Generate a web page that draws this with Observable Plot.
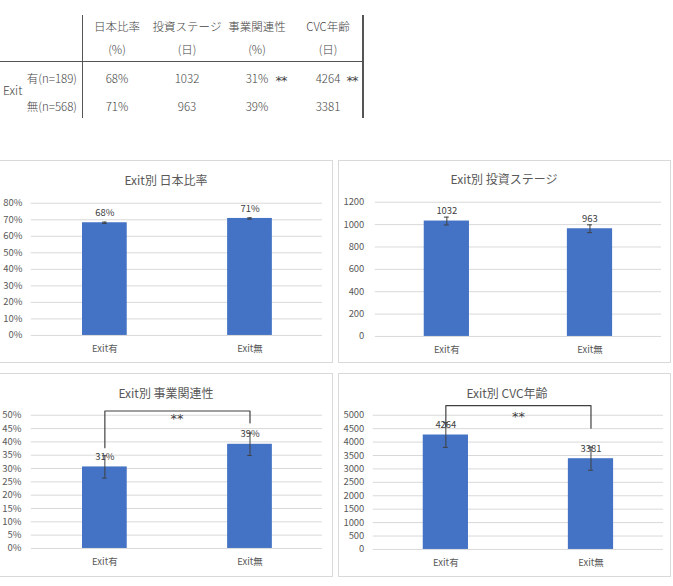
<!DOCTYPE html>
<html><head><meta charset="utf-8">
<script src="https://cdn.jsdelivr.net/npm/d3@7"></script>
<script src="https://cdn.jsdelivr.net/npm/@observablehq/plot@0.6"></script>
<style>
body{margin:0;background:#fff;width:673px;height:586px;position:relative;overflow:hidden;font-family:"Noto Sans CJK JP",sans-serif;}
.t,.tr,.tl{position:absolute;font-size:11.5px;color:#444;white-space:nowrap;line-height:1;font-weight:300;}
.t{transform:translate(-50%,-50%);}
.tr{transform:translate(-100%,-50%);}
.tl{transform:translate(0,-50%);}
.line{position:absolute;background:#555;}
.panel{position:absolute;border:1px solid #d9d9d9;box-sizing:border-box;background:#fff;overflow:visible;}
.panel svg{position:absolute;left:0;top:0;overflow:visible;}
.title{position:absolute;font-size:12px;color:#595959;transform:translate(-50%,-50%);white-space:nowrap;line-height:1;}
</style></head><body>
<script>
// ---------- data ----------
const groups = ["Exit有", "Exit無"];
const rowLabels = ["有(n=189)", "無(n=568)"];
const colHeads = ["日本比率", "投資ステージ", "事業関連性", "CVC年齢"];
const colUnits = ["(%)", "(日)", "(%)", "(日)"];
const tableRow1 = ["68%", "1032", "31%", "4264"];
const tableRow2 = ["71%", "963", "39%", "3381"];
const signif = ["", "", "**", "**"];

const japanRatio = [0.682, 0.708];
const japanErr = [0.004, 0.004];
const stageDays = [1032, 963];
const stageErr = [35, 35];
const relevance = [0.306, 0.391];
const relevanceErr = [0.042, 0.042];
const cvcAge = [4264, 3381];
const cvcErr = [460, 430];

const pctTicks80 = [0, 0.1, 0.2, 0.3, 0.4, 0.5, 0.6, 0.7, 0.8];
const stageTicks = [0, 200, 400, 600, 800, 1000, 1200];
const pctTicks50 = [0, 0.05, 0.1, 0.15, 0.2, 0.25, 0.3, 0.35, 0.4, 0.45, 0.5];
const cvcTicks = [0, 500, 1000, 1500, 2000, 2500, 3000, 3500, 4000, 4500, 5000];

// bracket y-values: left leg bottom, top, top, right leg bottom; star y
const relevanceBracket = [0.378, 0.516, 0.516, 0.471];
const relevanceStar = 0.486;
const cvcBracket = [4560, 5360, 5360, 4520];
const cvcStar = 4950;

// ---------- table ----------
const body = document.body;
function el(cls, text, x, y, extra) {
  const d = document.createElement("div");
  d.className = cls; d.textContent = text;
  d.style.left = x + "px"; d.style.top = y + "px";
  if (extra) Object.assign(d.style, extra);
  body.appendChild(d); return d;
}
function line(x, y, w, h) {
  const d = document.createElement("div");
  d.className = "line";
  Object.assign(d.style, {left: x + "px", top: y + "px", width: w + "px", height: h + "px"});
  body.appendChild(d);
}
const colX = [117, 187, 257, 328];
line(81.5, 15, 1.5, 103);
line(362, 15, 1.5, 103);
line(0, 60.5, 363, 1.5);
colHeads.forEach((h, i) => el("t", h, colX[i], 27));
colUnits.forEach((h, i) => el("t", h, colX[i], 50));
el("tl", "Exit", 3, 90, {fontSize: "12px"});
el("tr", rowLabels[0], 77, 79);
el("tr", rowLabels[1], 77, 107);
tableRow1.forEach((v, i) => el("t", v, colX[i], 79));
tableRow2.forEach((v, i) => el("t", v, colX[i], 107));
signif.forEach((s, i) => { if (s) el("t", s, colX[i] + 24, 80, {fontStyle: "italic", fontSize: "13px", fontFamily: "DejaVu Sans", fontWeight: "normal", letterSpacing: "-1px"}); });

// ---------- charts ----------
function chart(cfg) {
  const {left, top, width, height, title, titleX, titleY, values, errors, ticks, fmt, labelFmt,
         ml, mr, mt, mb, tickPad, domain, bracket, star} = cfg;
  const panel = document.createElement("div");
  panel.className = "panel";
  Object.assign(panel.style, {left: left + "px", top: top + "px", width: width + "px", height: (cfg.panelH) + "px"});
  body.appendChild(panel);
  const tt = document.createElement("div");
  tt.className = "title"; tt.textContent = title;
  tt.style.left = titleX + "px"; tt.style.top = titleY + "px";
  panel.appendChild(tt);

  const data = groups.map((g, i) => ({g, v: values[i], e: errors[i]}));
  const bw = (width - ml - mr) / groups.length;
  const barInset = (bw - 45.5) / 2;
  const capInset = (bw - 5) / 2;
  const marks = [
    Plot.gridY(ticks, {stroke: "#d9d9d9", strokeOpacity: 1}),
    Plot.axisY({ticks, tickFormat: fmt, tickSize: 0, tickPadding: tickPad, fontSize: 9.5, color: "#595959"}),
    Plot.axisX({tickSize: 0, tickPadding: 10, fontSize: 9.5, color: "#595959"}),
    Plot.barY(data, {x: "g", y: "v", fill: "#4472C4", insetLeft: barInset, insetRight: barInset}),
    Plot.ruleX(data, {x: "g", y1: d => d.v - d.e, y2: d => d.v + d.e, stroke: "#404040", strokeWidth: 1}),
    Plot.tickY(data, {x: "g", y: d => d.v + d.e, stroke: "#404040", insetLeft: capInset, insetRight: capInset}),
    Plot.tickY(data, {x: "g", y: d => d.v - d.e, stroke: "#404040", insetLeft: capInset, insetRight: capInset}),
    Plot.text(data, {x: "g", y: "v", text: d => labelFmt(d.v), dy: -10, fontSize: 9.5, fill: "#404040"})
  ];
  if (bracket) {
    const bd = [0, 0, 1, 1].map((k, i) => ({x: groups[k], y: bracket[i]}));
    marks.push(Plot.line(bd, {x: "x", y: "y", stroke: "#404040", strokeWidth: 1.2}));
    marks.push(Plot.text([star], {y: d => d, text: () => "**", fontSize: 13, fontStyle: "italic", fontFamily: "DejaVu Sans", fill: "#404040"}));
  }
  const svg = Plot.plot({
    width, height,
    marginLeft: ml, marginRight: mr, marginTop: mt, marginBottom: mb,
    style: {fontFamily: '"Noto Sans CJK JP", sans-serif', background: "transparent", overflow: "visible"},
    x: {type: "band", domain: groups, padding: 0, label: null},
    y: {domain, label: null},
    marks
  });
  panel.appendChild(svg);
}

const pct = d3.format(".0%");
const num = d3.format("d");

chart({left: -1, top: 160, width: 334, height: 200, panelH: 203, title: "Exit別 日本比率", titleX: 166, titleY: 19,
  values: japanRatio, errors: japanErr, ticks: pctTicks80, fmt: pct, labelFmt: pct,
  ml: 31, mr: 10, mt: 42, mb: 25, tickPad: 9, domain: [0, 0.8]});
chart({left: 338, top: 160, width: 333, height: 200, panelH: 203, title: "Exit別 投資ステージ", titleX: 165, titleY: 18,
  values: stageDays, errors: stageErr, ticks: stageTicks, fmt: num, labelFmt: num,
  ml: 36, mr: 9, mt: 41, mb: 24, tickPad: 11, domain: [0, 1200]});
chart({left: -1, top: 373, width: 334, height: 200, panelH: 204, title: "Exit別 事業関連性", titleX: 166, titleY: 19,
  values: relevance, errors: relevanceErr, ticks: pctTicks50, fmt: pct, labelFmt: pct,
  ml: 31, mr: 10, mt: 41, mb: 25, tickPad: 10, domain: [0, 0.5],
  bracket: relevanceBracket, star: relevanceStar});
chart({left: 338, top: 373, width: 333, height: 200, panelH: 204, title: "Exit別 CVC年齢", titleX: 168, titleY: 19,
  values: cvcAge, errors: cvcErr, ticks: cvcTicks, fmt: num, labelFmt: num,
  ml: 34, mr: 7, mt: 41, mb: 24, tickPad: 9, domain: [0, 5000],
  bracket: cvcBracket, star: cvcStar});
</script>
</body></html>
